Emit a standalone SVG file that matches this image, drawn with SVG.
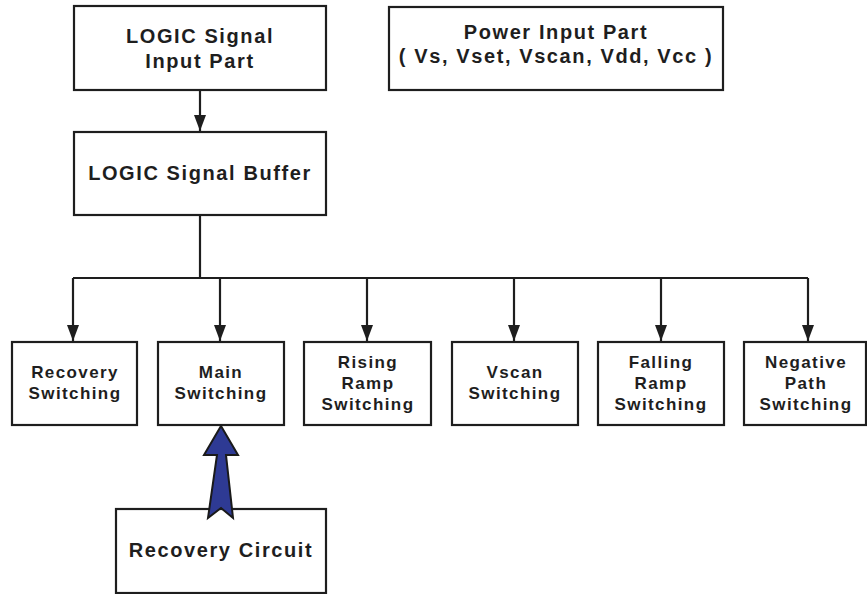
<svg xmlns="http://www.w3.org/2000/svg" width="867" height="594" viewBox="0 0 867 594">
<style>
.box{fill:#fff;stroke:#1e1e1e;stroke-width:2.2}
.t{font-family:"Liberation Sans",Arial,sans-serif;font-weight:bold;fill:#1e1e1e;text-anchor:middle}
.big{font-size:20px;letter-spacing:1.6px}
.sm{font-size:17px;letter-spacing:1.4px}
.ln{fill:none;stroke:#1e1e1e;stroke-width:2.2}
</style>
<defs>
<marker id="ahd" markerUnits="userSpaceOnUse" markerWidth="16" markerHeight="13" refX="16" refY="6.5" orient="auto" viewBox="0 0 16 13">
<path d="M0,0.5 L0,12.5 L16,6.5 Z" fill="#1e1e1e"/>
</marker>
</defs>
<g id="connectors">
<path class="ln" d="M200,90 V131" marker-end="url(#ahd)"/>
<path class="ln" d="M200,215 V278"/>
<path class="ln" d="M73,278 H808"/>
<path class="ln" d="M73,278 V341" marker-end="url(#ahd)"/>
<path class="ln" d="M220,278 V341" marker-end="url(#ahd)"/>
<path class="ln" d="M367,278 V341" marker-end="url(#ahd)"/>
<path class="ln" d="M514,278 V341" marker-end="url(#ahd)"/>
<path class="ln" d="M661,278 V341" marker-end="url(#ahd)"/>
<path class="ln" d="M808,278 V341" marker-end="url(#ahd)"/>
</g>
<g id="logic-input">
<rect class="box" x="74" y="6" width="252" height="84"/>
<text class="t big" x="200" y="43">LOGIC Signal</text>
<text class="t big" x="200" y="68">Input Part</text>
</g>
<g id="power-input">
<rect class="box" x="389" y="7" width="334" height="83"/>
<text class="t big" x="556" y="39">Power Input Part</text>
<text class="t big" x="556" y="63">( Vs, Vset, Vscan, Vdd, Vcc )</text>
</g>
<g id="logic-buffer">
<rect class="box" x="74" y="132" width="252" height="83"/>
<text class="t big" x="200" y="180">LOGIC Signal Buffer</text>
</g>
<g id="recovery-switching">
<rect class="box" x="12" y="342" width="125" height="83"/>
<text class="t sm" x="75" y="378">Recovery</text>
<text class="t sm" x="75" y="399">Switching</text>
</g>
<g id="main-switching">
<rect class="box" x="158" y="342" width="126" height="83"/>
<text class="t sm" x="221" y="378">Main</text>
<text class="t sm" x="221" y="399">Switching</text>
</g>
<g id="rising-ramp">
<rect class="box" x="304" y="342" width="127" height="83"/>
<text class="t sm" x="368" y="368">Rising</text>
<text class="t sm" x="368" y="389">Ramp</text>
<text class="t sm" x="368" y="410">Switching</text>
</g>
<g id="vscan-switching">
<rect class="box" x="452" y="342" width="126" height="83"/>
<text class="t sm" x="515" y="378">Vscan</text>
<text class="t sm" x="515" y="399">Switching</text>
</g>
<g id="falling-ramp">
<rect class="box" x="598" y="342" width="126" height="83"/>
<text class="t sm" x="661" y="368">Falling</text>
<text class="t sm" x="661" y="389">Ramp</text>
<text class="t sm" x="661" y="410">Switching</text>
</g>
<g id="negative-path">
<rect class="box" x="744" y="342" width="122" height="83"/>
<text class="t sm" x="806" y="368">Negative</text>
<text class="t sm" x="806" y="389">Path</text>
<text class="t sm" x="806" y="410">Switching</text>
</g>
<g id="recovery-circuit">
<rect class="box" x="116" y="509" width="210" height="84"/>
<text class="t big" x="221" y="557">Recovery Circuit</text>
</g>
<g id="blue-arrow">
<polygon points="221,426 238,455 226,455 233,518 221,508 208,518 217,455 204,455" fill="#2e3a94" stroke="#1a1a1a" stroke-width="2" stroke-linejoin="miter"/>
</g>
</svg>
